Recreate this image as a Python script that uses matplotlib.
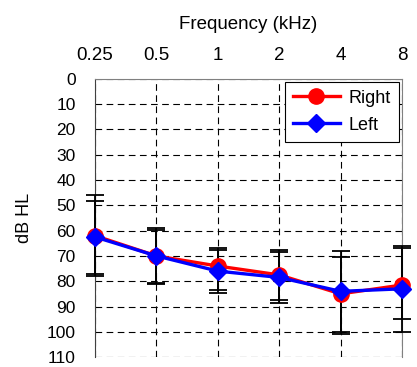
import matplotlib
matplotlib.use("Agg")
import matplotlib.pyplot as plt

plt.rcParams['font.family'] = ['Liberation Sans', 'DejaVu Sans']

# audiogram data (dB HL)
freqs = ["0.25", "0.5", "1", "2", "4", "8"]
right_mean = [62, 70, 74, 77.5, 85, 81.5]
left_mean = [62.5, 70, 76, 78.5, 84, 83]

# error bar ends (upper = smaller dB, lower = larger dB)
right_top = [46, 59, 67, 67.5, 68, 67]
right_bot = [78, 80.6, 83.6, 87.5, 101, 95]
left_top = [48.4, 59.7, 67.8, 68.5, 70.5, 66]
left_bot = [77, 81, 84.5, 88.5, 100, 100]

yticks = list(range(0, 111, 10))


def main():
    fig = plt.figure(figsize=(4.17, 3.67), dpi=100)
    ax = fig.add_axes([0.228, 0.027, 0.736, 0.758])

    x = list(range(len(freqs)))

    r_err = [[m - t for m, t in zip(right_mean, right_top)],
             [b - m for m, b in zip(right_mean, right_bot)]]
    l_err = [[m - t for m, t in zip(left_mean, left_top)],
             [b - m for m, b in zip(left_mean, left_bot)]]

    # error bars first, black
    for mean, err in [(right_mean, r_err), (left_mean, l_err)]:
        eb = ax.errorbar(x, mean, yerr=err, fmt='none', ecolor='black',
                         elinewidth=1.3, capsize=6.5, capthick=1.3, zorder=3)
        for art in eb.get_children():
            art.set_clip_on(False)

    ax.plot(x, right_mean, color='red', marker='o', markersize=11,
            linewidth=2.4, label='Right', zorder=4, clip_on=False)
    ax.plot(x, left_mean, color='blue', marker='D', markersize=9.5,
            linewidth=2.4, label='Left', zorder=5, clip_on=False)

    ax.set_xlim(0, 5)
    ax.set_ylim(110, 0)
    ax.set_yticks(yticks)
    ax.set_xticks(x)
    ax.set_xticklabels(freqs)

    ax.xaxis.tick_top()
    ax.xaxis.set_label_position('top')
    ax.set_xlabel("Frequency (kHz)", fontsize=13.5, labelpad=13)
    ax.set_ylabel("dB HL", fontsize=13, labelpad=10)
    ax.tick_params(axis='x', labelsize=13.5, length=0, pad=11)
    ax.tick_params(axis='y', labelsize=12.5, length=0, pad=14)

    ax.grid(True, color='black', linestyle=(0, (6, 4)), linewidth=0.8)
    ax.set_axisbelow(True)
    for side in ['top', 'right']:
        ax.spines[side].set_color('#808080')
    ax.spines['left'].set_color('#404040')
    ax.spines['bottom'].set_visible(False)

    leg = ax.legend(loc='upper right', fontsize=13, fancybox=False,
                    framealpha=1, edgecolor='black', borderaxespad=0.15,
                    handlelength=2.6, labelspacing=0.55, borderpad=0.45,
                    handletextpad=0.5)
    leg.get_frame().set_linewidth(0.8)

    fig.savefig("out.png", dpi=100)
    plt.close(fig)


if __name__ == "__main__":
    main()
